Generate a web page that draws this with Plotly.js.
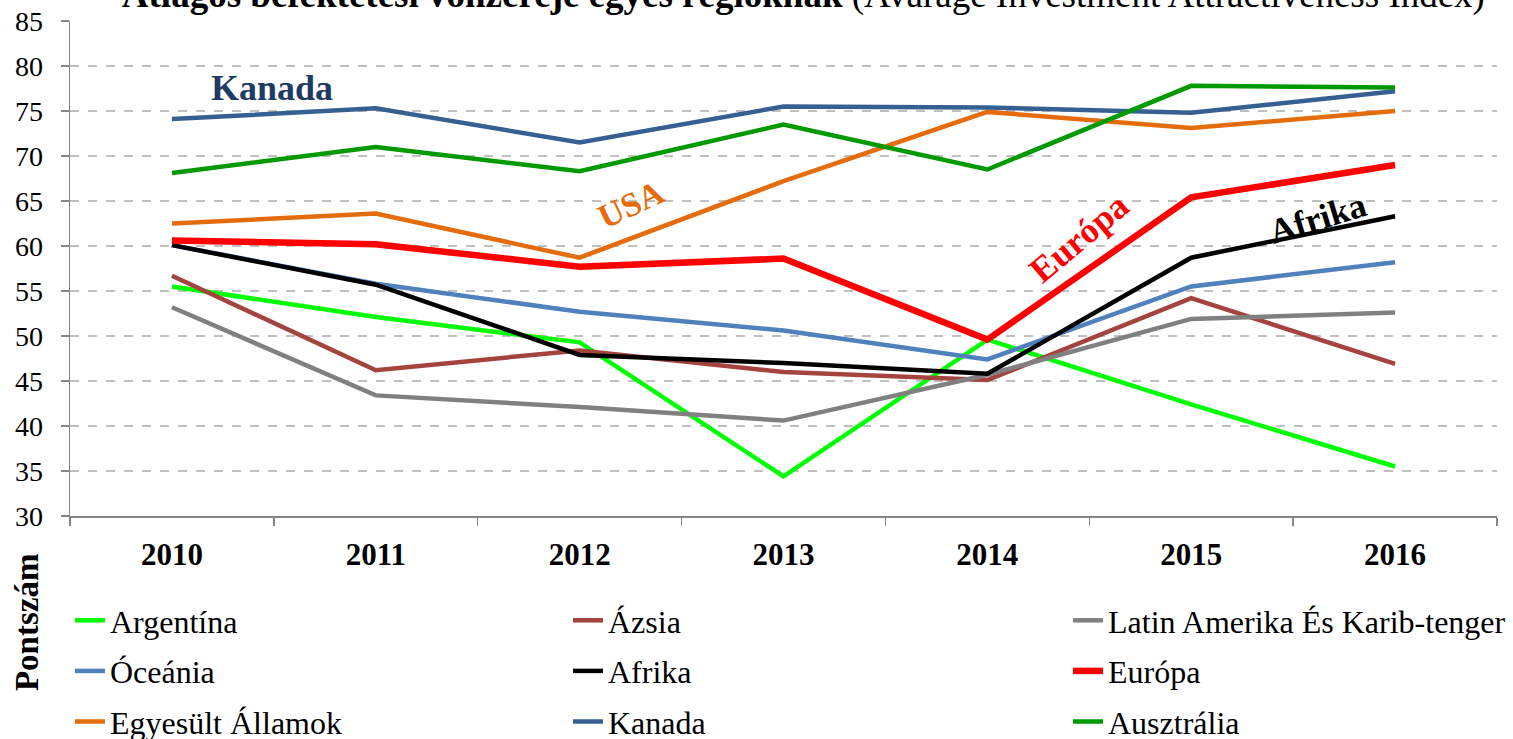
<!DOCTYPE html>
<html>
<head>
<meta charset="utf-8">
<script src="https://cdn.plot.ly/plotly-3.0.1.min.js"></script>
<style>html,body{margin:0;padding:0;background:#fff;}#chart{width:1513px;height:739px;}</style>
</head>
<body>
<div id="chart"></div>
<script>
const years = ['2010', '2011', '2012', '2013', '2014', '2015', '2016'];
const argentina = [55.5, 52.1, 49.3, 34.4, 49.6, 42.4, 35.5];
const azsia = [56.7, 46.2, 48.4, 46.0, 45.1, 54.2, 46.9];
const latinAmerika = [53.2, 43.4, 42.1, 40.6, 45.7, 51.9, 52.6];
const oceania = [60.1, 55.8, 52.7, 50.6, 47.4, 55.5, 58.2];
const afrika = [60.1, 55.7, 47.9, 47.0, 45.8, 58.7, 63.3];
const europa = [60.6, 60.2, 57.7, 58.6, 49.6, 65.4, 69.0];
const usa = [62.5, 63.6, 58.7, 67.2, 74.9, 73.1, 75.0];
const kanada = [74.1, 75.3, 71.5, 75.5, 75.4, 74.8, 77.2];
const ausztralia = [68.1, 71.0, 68.3, 73.5, 68.5, 77.8, 77.6];

const serif = 'Liberation Serif, Times New Roman, serif';

function tr(name, y, color, width, legend) {
  return {
    type: 'scatter', mode: 'lines', x: years, y: y, name: name,
    line: {color: color, width: width},
    legend: legend, legendgroup: name
  };
}

const data = [
  tr('Argentína', argentina, '#00FF00', 4.5, 'legend'),
  tr('Ázsia', azsia, '#A5433E', 4.5, 'legend2'),
  tr('Latin Amerika És Karib-tenger', latinAmerika, '#808080', 4.5, 'legend3'),
  tr('Óceánia', oceania, '#4F81BD', 4.5, 'legend'),
  tr('Afrika', afrika, '#000000', 4.5, 'legend2'),
  tr('Európa', europa, '#FF0000', 6.5, 'legend3'),
  tr('Egyesült Államok', usa, '#E46C0A', 4.5, 'legend'),
  tr('Kanada', kanada, '#376092', 4.5, 'legend2'),
  tr('Ausztrália', ausztralia, '#009A00', 4.5, 'legend3')
];

const legendBase = {
  orientation: 'v', xref: 'container', yref: 'container',
  yanchor: 'top', xanchor: 'left',
  font: {family: serif, size: 32, color: '#000'},
  tracegroupgap: 6, bgcolor: 'rgba(0,0,0,0)', borderwidth: 0
};

const layout = {
  width: 1513, height: 739,
  margin: {l: 70, r: 16, t: 21, b: 223, autoexpand: false},
  paper_bgcolor: '#fff', plot_bgcolor: '#fff',
  font: {family: serif, color: '#000'},
  showlegend: true,
  title: {
    text: '<b>Átlagos befektetési vonzereje egyes régióknak</b> (Avarage Investment Attractiveness Index)',
    font: {family: serif, size: 37, color: '#000'},
    x: 0.531, xref: 'container', xanchor: 'center',
    y: 0.991, yref: 'container', yanchor: 'bottom'
  },
  xaxis: {
    type: 'category', range: [-0.5, 6.5], automargin: false,
    tickson: 'boundaries', ticks: 'outside', ticklen: 8, tickcolor: '#868686', tickwidth: 1.5,
    showline: true, linecolor: '#868686', linewidth: 1.5,
    showgrid: false, zeroline: false, tickangle: 0,
    tickfont: {family: serif, size: 31, color: '#000', weight: 'bold'},
    ticklabelstandoff: 10
  },
  yaxis: {
    range: [30, 85], dtick: 5, tick0: 30, automargin: false,
    ticks: 'outside', ticklen: 8, tickcolor: '#868686', tickwidth: 1.5,
    showline: true, linecolor: '#868686', linewidth: 1.5,
    showgrid: true, gridcolor: '#C0C0C0', griddash: 'dash', gridwidth: 1.5,
    zeroline: false,
    tickfont: {family: serif, size: 28, color: '#000'},
    ticklabelstandoff: 12
  },
  legend: Object.assign({}, legendBase, {x: 70 / 1513, y: 1 - 593 / 739}),
  legend2: Object.assign({}, legendBase, {x: 568 / 1513, y: 1 - 593 / 739}),
  legend3: Object.assign({}, legendBase, {x: 1068 / 1513, y: 1 - 593 / 739}),
  annotations: [
    {text: '<b>Kanada</b>', x: 0.49, y: 77.6, xref: 'x', yref: 'y', showarrow: false,
     font: {family: serif, size: 36, color: '#1F3B63'}},
    {text: '<b>USA</b>', x: 2.25, y: 64.6, xref: 'x', yref: 'y', showarrow: false, textangle: -25,
     font: {family: serif, size: 34, color: '#E46C0A'}},
    {text: '<b>Európa</b>', x: 4.45, y: 60.9, xref: 'x', yref: 'y', showarrow: false, textangle: -40,
     font: {family: serif, size: 36, color: '#FF0000'}},
    {text: '<b>Afrika</b>', x: 5.62, y: 63.1, xref: 'x', yref: 'y', showarrow: false, textangle: -17,
     font: {family: serif, size: 35, color: '#000000'}},
    {text: '<b>Pontszám</b>', x: -0.030, y: -0.216, xref: 'paper', yref: 'paper', showarrow: false,
     xanchor: 'center', yanchor: 'middle',
     textangle: -90, font: {family: serif, size: 33, color: '#000'}}
  ]
};

Plotly.newPlot('chart', data, layout, {displayModeBar: false, staticPlot: true});
</script>
</body>
</html>
